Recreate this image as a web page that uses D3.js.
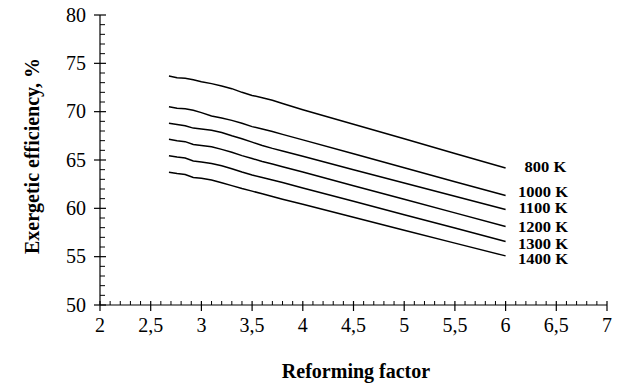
<!DOCTYPE html>
<html>
<head>
<meta charset="utf-8">
<script src="https://cdn.jsdelivr.net/npm/d3@7"></script>
<style>
  html, body { margin: 0; padding: 0; background: #fff; }
  svg { display: block; }
</style>
</head>
<body>
<svg id="chart" width="624" height="386" font-family="Liberation Serif, Times New Roman, serif"></svg>
<script>
// ---- data ----
const reformingFactor = [2.68, 2.76, 2.84, 2.92, 3.0, 3.1, 3.2, 3.3, 3.4, 3.5, 3.6, 3.7, 3.8, 4.0, 4.5, 5.0, 5.5, 6.0];
const eff800  = [73.69, 73.52, 73.45, 73.30, 73.10, 72.90, 72.65, 72.38, 72.00, 71.68, 71.45, 71.18, 70.85, 70.20, 68.70, 67.20, 65.68, 64.17];
const eff1000 = [70.51, 70.35, 70.30, 70.15, 69.90, 69.55, 69.35, 69.10, 68.80, 68.45, 68.20, 67.95, 67.65, 67.08, 65.64, 64.20, 62.76, 61.32];
const eff1100 = [68.80, 68.68, 68.55, 68.30, 68.20, 68.08, 67.85, 67.50, 67.20, 66.85, 66.50, 66.20, 65.94, 65.39, 64.00, 62.63, 61.25, 59.87];
const eff1200 = [67.14, 67.00, 66.90, 66.60, 66.50, 66.36, 66.10, 65.80, 65.45, 65.15, 64.85, 64.59, 64.31, 63.75, 62.34, 60.94, 59.53, 58.13];
const eff1300 = [65.45, 65.30, 65.20, 64.90, 64.80, 64.64, 64.40, 64.10, 63.75, 63.45, 63.20, 62.94, 62.67, 62.11, 60.73, 59.34, 57.96, 56.57];
const eff1400 = [63.73, 63.60, 63.50, 63.20, 63.10, 62.92, 62.65, 62.35, 62.05, 61.78, 61.50, 61.22, 60.95, 60.42, 59.08, 57.74, 56.40, 55.08];
const seriesNames = ["800 K", "1000 K", "1100 K", "1200 K", "1300 K", "1400 K"];
const seriesValues = [eff800, eff1000, eff1100, eff1200, eff1300, eff1400];
const labelValues = [64.28, 61.69, 60.04, 58.02, 56.36, 54.71]; // label vertical positions (data units)
const xTickValues = [2, 2.5, 3, 3.5, 4, 4.5, 5, 5.5, 6, 6.5, 7];
const xTickLabels = ["2", "2,5", "3", "3,5", "4", "4,5", "5", "5,5", "6", "6,5", "7"];
const yTickValues = [50, 55, 60, 65, 70, 75, 80];
const yTickLabels = ["50", "55", "60", "65", "70", "75", "80"];
const xTitle = "Reforming factor";
const yTitle = "Exergetic efficiency, %";

// ---- layout ----
const svg = d3.select("#chart");
const x = d3.scaleLinear().domain([2, 7]).range([100, 607]);
const y = d3.scaleLinear().domain([50, 80]).range([305, 15]);

// x axis
const gx = svg.append("g");
gx.append("line").attr("x1", x(2)).attr("x2", x(7)).attr("y1", y(50)).attr("y2", y(50))
  .attr("stroke", "#000").attr("stroke-width", 1.2);
const xMinor = d3.range(20, 71).map(d => d / 10).filter(d => Math.abs(d * 2 - Math.round(d * 2)) > 1e-6);
gx.selectAll("line.minor").data(xMinor).join("line").attr("class", "minor")
  .attr("x1", d => x(d)).attr("x2", d => x(d)).attr("y1", y(50)).attr("y2", y(50) - 4)
  .attr("stroke", "#000").attr("stroke-width", 1);
gx.selectAll("line.major").data(xTickValues).join("line").attr("class", "major")
  .attr("x1", d => x(d)).attr("x2", d => x(d)).attr("y1", y(50) - 4).attr("y2", y(50) + 6)
  .attr("stroke", "#000").attr("stroke-width", 1.2);
gx.selectAll("text").data(xTickValues).join("text")
  .attr("x", d => x(d)).attr("y", 332).attr("text-anchor", "middle")
  .attr("font-size", 20).text((d, i) => xTickLabels[i]);

// y axis
const gy = svg.append("g");
gy.append("line").attr("x1", x(2)).attr("x2", x(2)).attr("y1", y(50)).attr("y2", y(80))
  .attr("stroke", "#000").attr("stroke-width", 1.2);
const yMinor = d3.range(50, 81).filter(d => d % 5 !== 0);
gy.selectAll("line.minor").data(yMinor).join("line").attr("class", "minor")
  .attr("x1", x(2)).attr("x2", x(2) + 5).attr("y1", d => y(d)).attr("y2", d => y(d))
  .attr("stroke", "#000").attr("stroke-width", 1);
gy.selectAll("line.major").data(yTickValues).join("line").attr("class", "major")
  .attr("x1", x(2) - 6).attr("x2", x(2) + 6).attr("y1", d => y(d)).attr("y2", d => y(d))
  .attr("stroke", "#000").attr("stroke-width", 1.2);
gy.selectAll("text").data(yTickValues).join("text")
  .attr("x", 86).attr("y", d => y(d) + 6.5).attr("text-anchor", "end")
  .attr("font-size", 20).text((d, i) => yTickLabels[i]);

// titles
svg.append("text").attr("x", 356).attr("y", 378).attr("text-anchor", "middle")
  .attr("font-size", 20).attr("font-weight", "bold").text(xTitle);
svg.append("text").attr("transform", "translate(39,156) rotate(-90)").attr("text-anchor", "middle")
  .attr("font-size", 20).attr("font-weight", "bold").text(yTitle);

// lines
const line = d3.line().x((d, i) => x(reformingFactor[i])).y(d => y(d));
svg.append("g").selectAll("path").data(seriesValues).join("path")
  .attr("d", d => line(d)).attr("fill", "none").attr("stroke", "#000").attr("stroke-width", 1.5);

// labels
svg.append("g").selectAll("text").data(seriesNames).join("text")
  .attr("x", (d, i) => i === 0 ? 545 : 543).attr("y", (d, i) => y(labelValues[i]) + 5)
  .attr("text-anchor", "middle").attr("font-size", 14).attr("font-weight", "bold")
  .attr("transform", (d, i) => `translate(${-0.18 * 543},0) scale(1.18,1)`)
  .text(d => d);
</script>
</body>
</html>
